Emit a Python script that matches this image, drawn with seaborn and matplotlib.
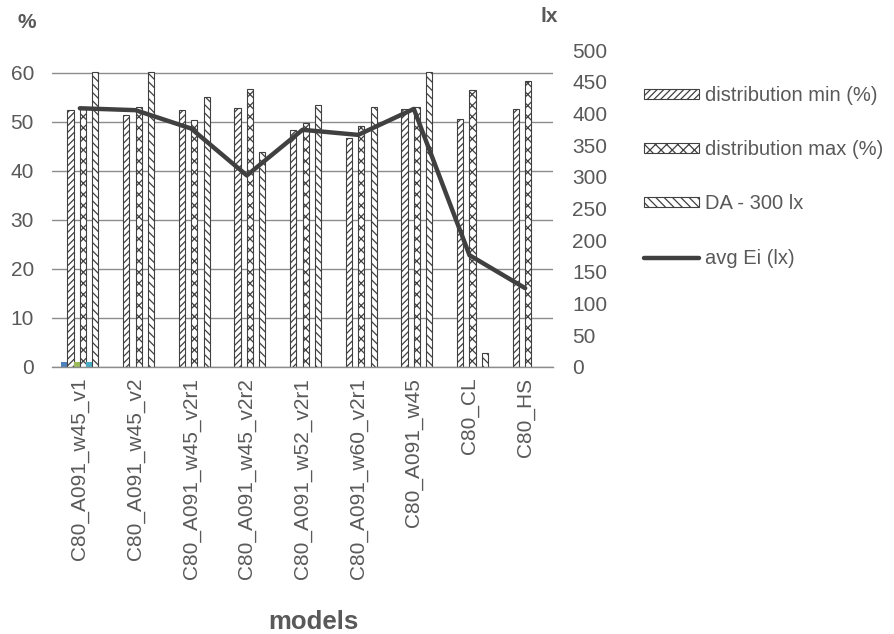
import numpy as np
import pandas as pd
import matplotlib
matplotlib.use("Agg")
import matplotlib.pyplot as plt
from matplotlib.patches import Patch
from matplotlib.lines import Line2D
import seaborn as sns

# ---- data -------------------------------------------------------------
models = ["C80_A091_w45_v1", "C80_A091_w45_v2", "C80_A091_w45_v2r1",
          "C80_A091_w45_v2r2", "C80_A091_w52_v2r1", "C80_A091_w60_v2r1",
          "C80_A091_w45", "C80_CL", "C80_HS"]
dist_min = [52.4, 51.3, 52.3, 52.7, 48.4, 46.6, 52.5, 50.5, 52.6]
dist_max = [52.6, 53.1, 50.3, 56.6, 49.8, 49.2, 53.0, 56.5, 58.4]
da_300 = [60.2, 60.2, 55.0, 43.8, 53.5, 53.1, 60.2, 2.7, np.nan]
avg_ei = [408, 405, 376, 302, 374, 366, 407, 176, 124]
# small coloured helper series that only have a value for the first model
extra_a = [1.0] + [np.nan] * 8
extra_b = [1.0] + [np.nan] * 8
extra_c = [1.0] + [np.nan] * 8

bar_series = ["extra a", "distribution min (%)", "extra b",
              "distribution max (%)", "extra c", "DA - 300 lx"]
bar_values = [extra_a, dist_min, extra_b, dist_max, extra_c, da_300]
bar_colors = ["#4f81bd", "#ffffff", "#9bbb59", "#ffffff", "#4bacc6", "#ffffff"]
bar_hatches = [None, "/////", None, "xxx", None, "\\\\\\\\"]

rows = []
for name, vals in zip(bar_series, bar_values):
    for m, v in zip(models, vals):
        if not np.isnan(v):
            rows.append({"model": m, "series": name, "value": v})
df = pd.DataFrame(rows)

# ---- style ------------------------------------------------------------
sns.set_theme(style="white")
plt.rcParams["font.family"] = ["Liberation Sans", "DejaVu Sans"]
plt.rcParams["hatch.linewidth"] = 0.9
TXT = "#595959"
GRID = "#8c8c8c"
FS = 15

W, H = 894, 634
fig = plt.figure(figsize=(W / 100, H / 100), dpi=100)
ax_left, ax_right, ax_bottom, ax_top = 52, 553, 366.7, 50
ax = fig.add_axes([ax_left / W, 1 - ax_bottom / H,
                   (ax_right - ax_left) / W, (ax_bottom - ax_top) / H])

group_width = 6 / 9.0
sns.barplot(data=df, x="model", y="value", hue="series", order=models,
            hue_order=bar_series, palette=dict(zip(bar_series, bar_colors)),
            width=group_width, dodge=True, legend=False, ax=ax,
            edgecolor="#404040", linewidth=0.8, saturation=1)

slot = group_width / len(bar_series)
for p in ax.patches:
    xc = p.get_x() + p.get_width() / 2
    off = xc - round(xc)
    idx = int(round((off + group_width / 2) / slot - 0.5))
    idx = min(max(idx, 0), len(bar_series) - 1)
    if bar_hatches[idx] is None:
        p.set_edgecolor("none")
    else:
        p.set_hatch(bar_hatches[idx])
        p.set_edgecolor("#404040")
        p.set_facecolor("white")

ax.set_xlim(-0.5, len(models) - 0.5)
ax.set_ylim(0, (ax_bottom - ax_top) / 4.9)
ax.set_yticks(np.arange(0, 61, 10))
ax.yaxis.grid(True, color=GRID, linewidth=1.0)
ax.set_axisbelow(True)
ax.set_xlabel("")
ax.set_ylabel("")
for s in ["left", "right", "top"]:
    ax.spines[s].set_visible(False)
ax.spines["bottom"].set_color(GRID)
ax.spines["bottom"].set_linewidth(1.0)
ax.tick_params(axis="y", length=0, pad=13, labelsize=FS, labelcolor=TXT)
ax.tick_params(axis="x", length=0, pad=8, labelsize=FS, labelcolor=TXT,
               rotation=90)
ax.set_xticks(range(len(models)))
ax.set_xticklabels(models, rotation=90, va="top", ha="center")

# secondary axis with the average illuminance line
ax2 = ax.twinx()
sns.lineplot(x=np.arange(len(models)), y=avg_ei, ax=ax2, color="#404040",
             linewidth=3.2, sort=False)
ax2.set_ylim(0, 500)
ax2.set_yticks(np.arange(0, 501, 50))
ax2.set_ylabel("")
for s in ["left", "right", "top", "bottom"]:
    ax2.spines[s].set_visible(False)
ax2.tick_params(axis="y", length=0, pad=14, labelsize=FS, labelcolor=TXT)
ax2.grid(False)
ax2.set_xlim(-0.5, len(models) - 0.5)

# axis titles
fig.text(27 / W, 1 - 22 / H, "%", ha="center", va="center",
         fontsize=FS, fontweight="bold", color=TXT)
fig.text(549 / W, 1 - 17 / H, "lx", ha="center", va="center",
         fontsize=FS, fontweight="bold", color=TXT)
fig.text(313 / W, 1 - 629 / H, "models", ha="center", va="baseline",
         fontsize=18.5, fontweight="bold", color=TXT)

# legend
handles = [
    Patch(facecolor="white", edgecolor="#404040", hatch=bar_hatches[1],
          linewidth=0.8),
    Patch(facecolor="white", edgecolor="#404040", hatch=bar_hatches[3],
          linewidth=0.8),
    Patch(facecolor="white", edgecolor="#404040", hatch=bar_hatches[5],
          linewidth=0.8),
    Line2D([0], [0], color="#404040", linewidth=3.2),
]
labels = ["distribution min (%)", "distribution max (%)", "DA - 300 lx",
          "avg Ei (lx)"]
LFS = 14.5
fig.legend(handles, labels, loc="upper left",
           bbox_to_anchor=(644 / W, 1 - 86 / H), frameon=False,
           fontsize=LFS, labelcolor=TXT, handlelength=2.75, handleheight=0.36,
           handletextpad=0.3, labelspacing=1.75, borderpad=0,
           borderaxespad=0)

fig.savefig("out.png", dpi=100, facecolor="white")
